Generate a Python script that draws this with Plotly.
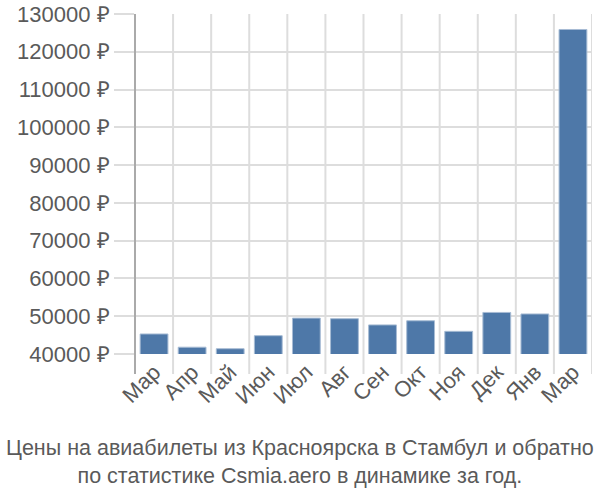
import plotly.graph_objects as go

months = ["Мар", "Апр", "Май", "Июн", "Июл", "Авг", "Сен", "Окт", "Ноя", "Дек", "Янв", "Мар"]
prices = [45300, 41800, 41400, 44850, 49500, 49350, 47700, 48800, 46000, 51000, 50600, 125900]
ytick_vals = [40000, 50000, 60000, 70000, 80000, 90000, 100000, 110000, 120000, 130000]
ytick_text = [f"{v} ₽" for v in ytick_vals]
title_lines = ["Цены на авиабилеты из Красноярска в Стамбул и обратно",
               "по статистике Csmia.aero в динамике за год."]

x_idx = list(range(len(months)))

fig = go.Figure(go.Bar(
    x=x_idx, y=prices,
    marker=dict(color="#4e78a8", line=dict(color="#a7bcd4", width=1)),
))

fig.update_layout(
    width=600, height=500,
    margin=dict(l=135, r=8, t=14, b=146),
    paper_bgcolor="white", plot_bgcolor="white",
    bargap=0.27,
    showlegend=False,
    font=dict(family="Liberation Sans, Arial, sans-serif", color="#5a5a5a"),
)
fig.update_xaxes(
    tickmode="array", tickvals=x_idx, ticktext=months,
    range=[-0.5, len(months) - 0.5],
    tickangle=-45, tickfont=dict(size=22, color="#5a5a5a"),
    showgrid=False, automargin=False,
    ticks="", showline=False, zeroline=False,
)
# vertical boundary gridlines with outside tick extension
for i in range(len(months) + 1):
    fig.add_shape(type="line", xref="x", yref="paper",
                  x0=i - 0.5, x1=i - 0.5, y0=-20 / 340, y1=1,
                  line=dict(color="#dddddd", width=2), layer="below")
fig.update_yaxes(
    range=[40000, 130000],
    tickmode="array", tickvals=ytick_vals, ticktext=ytick_text,
    tickfont=dict(size=22, color="#5a5a5a"),
    showgrid=True, gridcolor="#dddddd", gridwidth=2, automargin=False,
    ticks="outside", ticklen=20, tickcolor="#dddddd", tickwidth=2,
    showline=False, zeroline=False,
)
fig.add_shape(type="line", xref="paper", yref="paper",
              x0=0, x1=0, y0=-20 / 340, y1=1,
              line=dict(color="#aaaaaa", width=2))

fig.add_annotation(
    text="<br>".join(title_lines), xref="paper", yref="paper",
    x=(300 - 135) / 457, y=-(434 - 354) / 340, xanchor="center", yanchor="top",
    showarrow=False, align="center",
    font=dict(family="Liberation Sans, Arial", size=21.5, color="#5a5a5a"),
)

fig.write_html("out.html")
